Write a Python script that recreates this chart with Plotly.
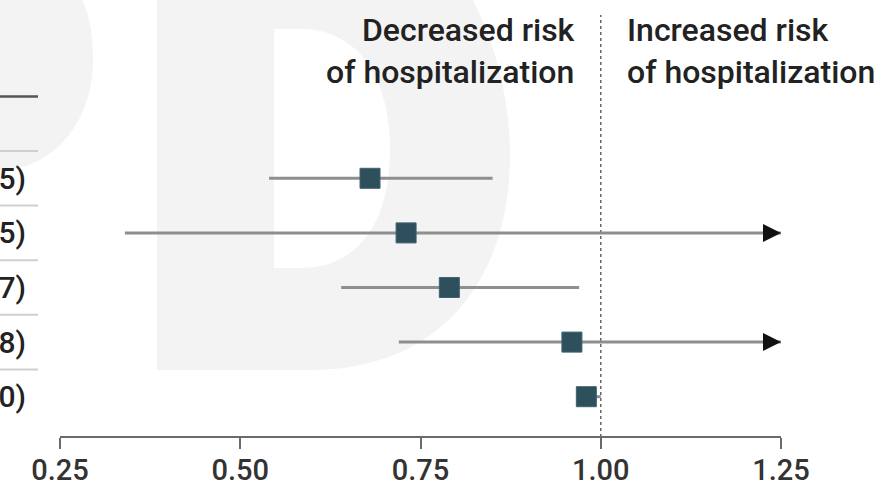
import plotly.graph_objects as go

# Odds ratios with 95% confidence intervals, one row per group (top to bottom)
odds_ratio = [0.68, 0.73, 0.79, 0.96, 0.98]
ci_lower = [0.54, 0.34, 0.64, 0.72, 0.97]
ci_upper = [0.85, 1.55, 0.97, 1.28, 1.00]

tick_values = [0.25, 0.50, 0.75, 1.00, 1.25]
tick_labels = ["0.25", "0.50", "0.75", "1.00", "1.25"]
header_left = "Decreased risk<br>of hospitalization"
header_right = "Increased risk<br>of hospitalization"

AXIS_MIN, AXIS_MAX = 0.25, 1.25
REF_LINE = 1.00

W, H = 887, 488
PLOT_H = 437            # plot area height in px (bottom margin holds tick labels)
PX_PER_UNIT = 721.0     # horizontal scale
X_ORIGIN_PX = 60.0      # pixel position of AXIS_MIN
ROW0_PX, ROW_STEP_PX = 178.3, 54.6

x_lo = AXIS_MIN - X_ORIGIN_PX / PX_PER_UNIT
x_hi = AXIS_MIN + (W - X_ORIGIN_PX) / PX_PER_UNIT
y_bottom = (PLOT_H - ROW0_PX) / ROW_STEP_PX
y_top = -ROW0_PX / ROW_STEP_PX

FONT = "Roboto"
WEIGHT = 500
SQUARE = "#2e4f5c"
WHISKER = "#8e8e8e"
TEXT = "#222222"
WATERMARK = "#f3f3f3"


def px(xp):
    return xp / W


def py(yp):
    return 1 - yp / PLOT_H


def path(points_cmds):
    """Build an SVG path in paper coordinates from pixel commands."""
    out = []
    for cmd, pts in points_cmds:
        coords = " ".join(f"{px(a):.5f},{py(b):.5f}" for a, b in pts)
        out.append(f"{cmd}{coords}")
    return " ".join(out) + " Z"


rows = list(range(len(odds_ratio)))

fig = go.Figure()

# confidence-interval whiskers (clipped at the axis end)
for i, lo, hi in zip(rows, ci_lower, ci_upper):
    fig.add_trace(go.Scatter(
        x=[lo, min(hi, AXIS_MAX)], y=[i, i], mode="lines",
        line=dict(color=WHISKER, width=3), hoverinfo="skip", showlegend=False,
    ))

# point estimates
fig.add_trace(go.Scatter(
    x=odds_ratio, y=rows, mode="markers",
    marker=dict(symbol="square", size=20, color=SQUARE,
                line=dict(color="#3d6272", width=1)),
    showlegend=False,
))

shapes = []
# faint background lettering
shapes.append(dict(
    type="path", xref="paper", yref="paper", layer="below", line_width=0,
    fillcolor=WATERMARK,
    path=path([("M", [(-5, -5)]), ("L", [(80, -5)]),
               ("C", [(90, 15), (93, 35), (93, 60)]),
               ("C", [(93, 125), (50, 170), (0, 170)]),
               ("L", [(-5, 170)])]),
))
shapes.append(dict(
    type="path", xref="paper", yref="paper", layer="below", line_width=0,
    fillcolor=WATERMARK,
    path=path([("M", [(157, -5)]), ("L", [(470, -5)]),
               ("C", [(495, 40), (510, 100), (510, 155)]),
               ("C", [(510, 280), (440, 370), (310, 370)]),
               ("L", [(157, 370)])]),
))
shapes.append(dict(
    type="path", xref="paper", yref="paper", layer="below", line_width=0,
    fillcolor="white",
    path=path([("M", [(274, 29)]), ("L", [(300, 29)]),
               ("C", [(360, 29), (390, 80), (390, 150)]),
               ("C", [(390, 220), (360, 268), (300, 268)]),
               ("L", [(274, 268)])]),
))

# reference line at OR = 1
shapes.append(dict(
    type="line", xref="x", yref="paper", x0=REF_LINE, x1=REF_LINE,
    y0=0, y1=py(15), layer="below",
    line=dict(color="#666666", width=1.5, dash="dot"),
))

# x axis line spanning only the labelled range
shapes.append(dict(
    type="line", xref="x", yref="paper", x0=AXIS_MIN, x1=AXIS_MAX,
    y0=0, y1=0, line=dict(color="#6a6a6a", width=2),
))

# table rules on the left
shapes.append(dict(
    type="line", xref="paper", yref="y", x0=0, x1=px(38), y0=-1.5, y1=-1.5,
    line=dict(color="#555555", width=2.5),
))
for i in rows:
    shapes.append(dict(
        type="line", xref="paper", yref="y", x0=0, x1=px(38),
        y0=i - 0.5, y1=i - 0.5, line=dict(color="#d0d0d0", width=2),
    ))

annotations = []
for i, o, lo, hi in zip(rows, odds_ratio, ci_lower, ci_upper):
    annotations.append(dict(
        xref="paper", yref="y", x=px(28), y=i, xanchor="right", yanchor="middle",
        text=f"{o:.2f} ({lo:.2f}-{hi:.2f})", showarrow=False,
        font=dict(family=FONT, size=30, color=TEXT, weight=WEIGHT),
    ))
    if hi > AXIS_MAX:
        annotations.append(dict(
            xref="x", yref="y", axref="x", ayref="y",
            x=AXIS_MAX, y=i, ax=AXIS_MAX - 0.012, ay=i,
            text="", showarrow=True, arrowhead=2, arrowsize=1.2,
            arrowwidth=3, arrowcolor="#111111",
        ))

annotations.append(dict(
    xref="paper", yref="paper", x=px(577), y=py(51), xanchor="right",
    yanchor="middle", align="right", text=header_left, showarrow=False,
    font=dict(family=FONT, size=32, color=TEXT, weight=WEIGHT),
))
annotations.append(dict(
    xref="paper", yref="paper", x=px(625), y=py(51), xanchor="left",
    yanchor="middle", align="left", text=header_right, showarrow=False,
    font=dict(family=FONT, size=32, color=TEXT, weight=WEIGHT),
))

fig.update_layout(
    width=W, height=H,
    margin=dict(l=0, r=0, t=0, b=H - PLOT_H, pad=0),
    paper_bgcolor="white", plot_bgcolor="rgba(0,0,0,0)",
    shapes=shapes, annotations=annotations,
    xaxis=dict(
        range=[x_lo, x_hi], tickvals=tick_values, ticktext=tick_labels,
        ticks="outside", ticklen=11, tickwidth=2, tickcolor="#6a6a6a",
        ticklabelstandoff=-4,
        showline=False, showgrid=False, zeroline=False, automargin=False,
        tickfont=dict(family=FONT, size=29, color="#333333", weight=WEIGHT),
    ),
    yaxis=dict(
        range=[y_bottom, y_top], showticklabels=False, showgrid=False,
        zeroline=False, showline=False, automargin=False,
    ),
)

fig.write_html("out.html")
